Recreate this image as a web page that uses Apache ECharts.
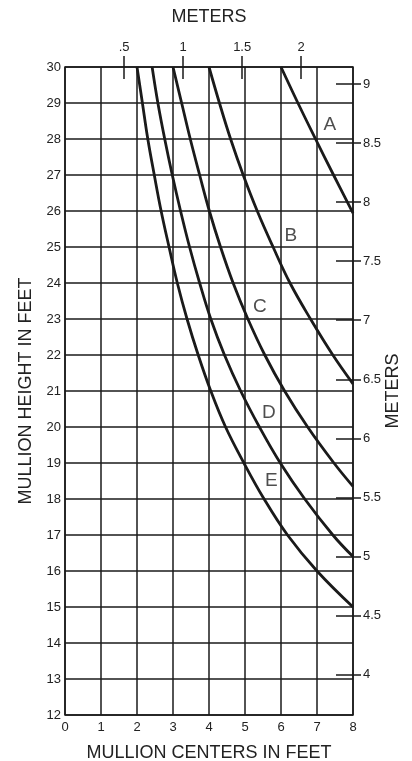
<!DOCTYPE html>
<html>
<head>
<meta charset="utf-8">
<script src="https://cdn.jsdelivr.net/npm/echarts@6/dist/echarts.min.js"></script>
<style>
html, body { margin: 0; padding: 0; background: #fff; }
#main { width: 412px; height: 761px; }
</style>
</head>
<body>
<div id="main"></div>
<script>
// curves: [mullion centers ft, mullion height ft]
var curveA = [[6, 30], [6.47, 29], [6.96, 28], [7.46, 27], [8, 25.94]];
var curveB = [[4, 30], [4.29, 29], [4.6, 28], [4.95, 27], [5.34, 26], [5.78, 25], [6.25, 24], [6.82, 23], [7.44, 22], [8, 21.2]];
var curveC = [[3, 30], [3.24, 29], [3.48, 28], [3.74, 27], [4.01, 26], [4.32, 25], [4.67, 24], [5.08, 23], [5.55, 22], [6.1, 21], [6.74, 20], [7.47, 19], [8, 18.35]];
var curveD = [[2.42, 30], [2.58, 29], [2.77, 28], [2.98, 27], [3.21, 26], [3.46, 25], [3.74, 24], [4.05, 23], [4.43, 22], [4.88, 21], [5.4, 20], [5.98, 19], [6.66, 18], [7.44, 17], [8, 16.4]];
var curveE = [[2, 30], [2.15, 29], [2.3, 28], [2.48, 27], [2.67, 26], [2.89, 25], [3.12, 24], [3.39, 23], [3.7, 22], [4.05, 21], [4.46, 20], [4.97, 19], [5.53, 18], [6.18, 17], [7.0, 16], [8, 15]];

var curveNames = ['A', 'B', 'C', 'D', 'E'];
var labelPoints = [[7.36, 28.4], [6.27, 25.3], [5.41, 23.35], [5.66, 20.4], [5.73, 18.5]];

// tick values
var meterTopTicks = [0.5, 1, 1.5, 2];
var meterRightTicks = [4, 4.5, 5, 5.5, 6, 6.5, 7, 7.5, 8, 8.5, 9];

var FT = 0.3048;
var ink = '#1a1a1a';
var font = 'Liberation Sans, Arial, sans-serif';

var myChart = echarts.init(document.getElementById('main'));

var curves = [curveA, curveB, curveC, curveD, curveE];
var series = curves.map(function (d, i) {
    return {
        name: curveNames[i],
        type: 'line',
        data: d,
        smooth: 0.4,
        showSymbol: false,
        silent: true,
        lineStyle: { color: ink, width: 2.8 }
    };
});
series.push({
    type: 'scatter',
    symbolSize: 0,
    silent: true,
    data: labelPoints.map(function (p, i) { return { name: curveNames[i], value: p }; }),
    label: {
        show: true,
        position: 'inside',
        formatter: '{b}',
        fontFamily: font,
        fontSize: 19,
        color: '#222'
    }
});

var option = {
    animation: false,
    backgroundColor: '#fff',
    textStyle: { fontFamily: font },
    grid: {
        left: 65, top: 67, width: 288, height: 648,
        outerBoundsMode: 'none', containLabel: false,
        show: true, borderColor: ink, borderWidth: 1.5
    },
    xAxis: [{
        type: 'value', position: 'bottom',
        min: 0, max: 8, interval: 1,
        axisLine: { show: false, onZero: false },
        axisTick: { show: false },
        axisLabel: { margin: 6, fontSize: 13, color: '#222', fontFamily: font, showMinLabel: true, showMaxLabel: true },
        splitLine: { show: true, lineStyle: { color: ink, width: 1.5 } },
        name: 'MULLION CENTERS IN FEET',
        nameLocation: 'middle', nameGap: 29,
        nameTextStyle: { fontSize: 18, color: '#222', fontFamily: font }
    }, {
        type: 'value', position: 'top',
        min: 0, max: 8 * FT,
        axisLine: { show: false, onZero: false },
        axisTick: { show: true, inside: false, length: 11, customValues: meterTopTicks, lineStyle: { color: ink, width: 1.5 } },
        axisLabel: {
            show: true, margin: 13, fontSize: 13, color: '#222', fontFamily: font,
            customValues: meterTopTicks,
            formatter: function (v) { return v === 0.5 ? '.5' : String(v); }
        },
        splitLine: { show: false },
        name: 'METERS',
        nameLocation: 'middle', nameGap: 41,
        nameTextStyle: { fontSize: 18, color: '#222', fontFamily: font }
    }, {
        type: 'value', position: 'top',
        min: 0, max: 8 * FT,
        axisLine: { show: false, onZero: false },
        axisTick: { show: true, inside: true, length: 12, customValues: meterTopTicks, lineStyle: { color: ink, width: 1.5 } },
        axisLabel: { show: false },
        splitLine: { show: false }
    }],
    yAxis: [{
        type: 'value', position: 'left',
        min: 12, max: 30, interval: 1,
        axisLine: { show: false, onZero: false },
        axisTick: { show: false },
        axisLabel: { margin: 4, fontSize: 13, color: '#222', fontFamily: font, showMinLabel: true, showMaxLabel: true },
        splitLine: { show: true, lineStyle: { color: ink, width: 1.5 } },
        name: 'MULLION HEIGHT IN FEET',
        nameLocation: 'middle', nameGap: 30, nameRotate: 90,
        nameTextStyle: { fontSize: 18, color: '#222', fontFamily: font }
    }, {
        type: 'value', position: 'right',
        min: 12 * FT, max: 30 * FT,
        axisLine: { show: false, onZero: false },
        axisTick: { show: true, inside: false, length: 8, customValues: meterRightTicks, lineStyle: { color: ink, width: 1.5 } },
        axisLabel: {
            show: true, margin: 10, fontSize: 13, color: '#222', fontFamily: font,
            customValues: meterRightTicks,
            formatter: function (v) { return String(v); }
        },
        splitLine: { show: false },
        name: 'METERS',
        nameLocation: 'middle', nameGap: 31, nameRotate: 90, nameMoveOverlap: false,
        nameTextStyle: { fontSize: 18, color: '#222', fontFamily: font }
    }, {
        type: 'value', position: 'right',
        min: 12 * FT, max: 30 * FT,
        axisLine: { show: false, onZero: false },
        axisTick: { show: true, inside: true, length: 17, customValues: meterRightTicks, lineStyle: { color: ink, width: 1.5 } },
        axisLabel: { show: false },
        splitLine: { show: false }
    }],
    series: series
};

myChart.setOption(option);
</script>
</body>
</html>
